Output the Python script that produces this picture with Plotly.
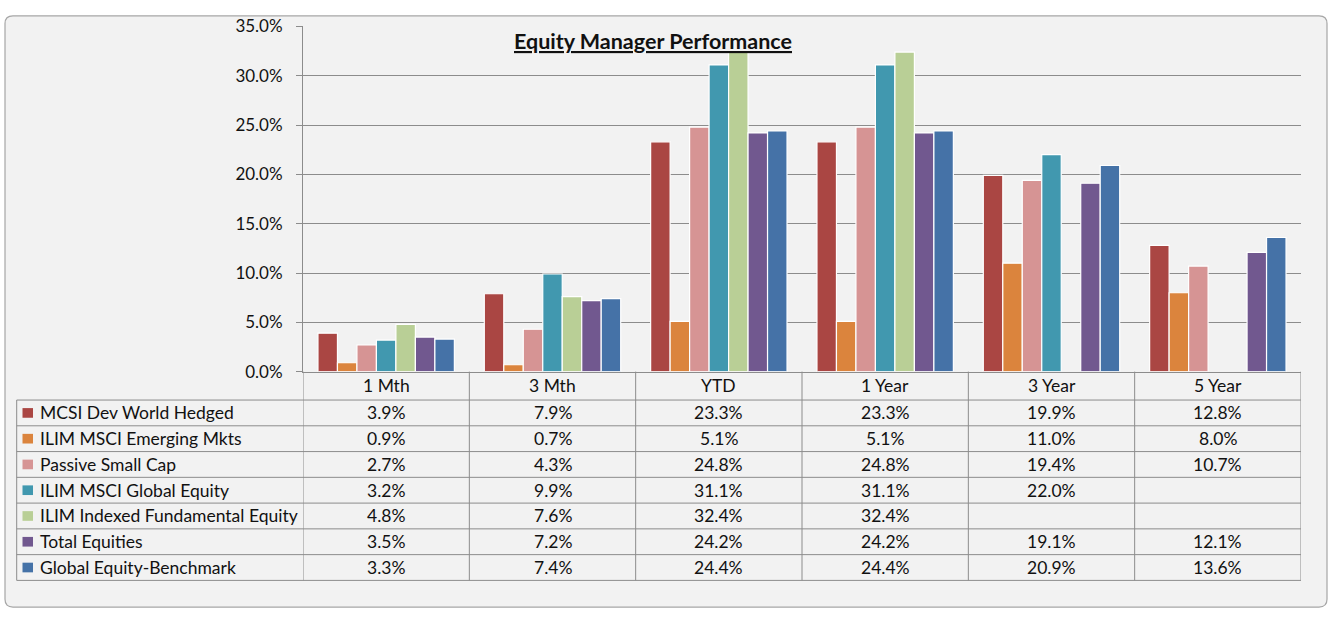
import plotly.graph_objects as go

W, H = 1330, 619

categories = ["1 Mth", "3 Mth", "YTD", "1 Year", "3 Year", "5 Year"]
series = [
    "MCSI Dev World Hedged",
    "ILIM MSCI Emerging Mkts",
    "Passive Small Cap",
    "ILIM MSCI Global Equity",
    "ILIM Indexed Fundamental Equity",
    "Total Equities",
    "Global Equity-Benchmark",
]
dev_world = [3.9, 7.9, 23.3, 23.3, 19.9, 12.8]
emerging = [0.9, 0.7, 5.1, 5.1, 11.0, 8.0]
small_cap = [2.7, 4.3, 24.8, 24.8, 19.4, 10.7]
global_eq = [3.2, 9.9, 31.1, 31.1, 22.0, None]
fundamental = [4.8, 7.6, 32.4, 32.4, None, None]
total_eq = [3.5, 7.2, 24.2, 24.2, 19.1, 12.1]
benchmark = [3.3, 7.4, 24.4, 24.4, 20.9, 13.6]
values = [dev_world, emerging, small_cap, global_eq, fundamental, total_eq, benchmark]
colors = ["#AA4643", "#DB843D", "#D69494", "#4198AF", "#B9CF96", "#71588F", "#4572A7"]

FONT = "Lato"
GRID = "#8c8c8c"
TXT = 17.5

# pixel helpers (margins are zero, so paper == pixels)
def px(x):
    return x / W

def py(y):
    return 1 - y / H

plot_l, plot_r, plot_t, plot_b = 303, 1301, 16, 373.3
row_top = 402.7
row_h = 26.67
tab_l = 16.7
tab_b = row_top + row_h * len(series)

fig = go.Figure()
for name, vals, col in zip(series, values, colors):
    fig.add_trace(go.Bar(x=categories, y=vals, name=name, marker_color=col,
                         marker_line=dict(color="white", width=1.2)))

shapes = []
annotations = []

# outer rounded frame
r = 8
x0, y0, x1, y1 = 5, 5, 1327, 617
path = (f"M {px(x0+r)},{py(y0)} L {px(x1-r)},{py(y0)} Q {px(x1)},{py(y0)} {px(x1)},{py(y0+r)} "
        f"L {px(x1)},{py(y1-r)} Q {px(x1)},{py(y1)} {px(x1-r)},{py(y1)} "
        f"L {px(x0+r)},{py(y1)} Q {px(x0)},{py(y1)} {px(x0)},{py(y1-r)} "
        f"L {px(x0)},{py(y0+r)} Q {px(x0)},{py(y0)} {px(x0+r)},{py(y0)} Z")
shapes.append(dict(type="path", path=path, xref="paper", yref="paper", layer="below",
                   fillcolor="#f2f2f2", line=dict(color="#a6a6a6", width=1.2)))

# table horizontal lines
for i in range(len(series) + 1):
    y = row_top + i * row_h
    shapes.append(dict(type="line", xref="paper", yref="paper", x0=px(tab_l), x1=px(plot_r),
                       y0=py(y), y1=py(y), line=dict(color=GRID, width=1)))
# table vertical lines
shapes.append(dict(type="line", xref="paper", yref="paper", x0=px(tab_l), x1=px(tab_l),
                   y0=py(row_top), y1=py(tab_b), line=dict(color=GRID, width=1)))
for k in range(len(categories) + 1):
    shapes.append(dict(type="line", xref="x", yref="paper", x0=k - 0.5, x1=k - 0.5,
                       y0=py(plot_b), y1=py(tab_b), line=dict(color=GRID, width=1)))

# header row
for k, c in enumerate(categories):
    annotations.append(dict(x=k, xref="x", y=py((plot_b + row_top) / 2), yref="paper",
                            yanchor="middle", text=c, showarrow=False,
                            font=dict(size=TXT, color="#111")))

# data rows
for i, (name, vals, col) in enumerate(zip(series, values, colors)):
    yc = row_top + (i + 0.5) * row_h
    shapes.append(dict(type="rect", xref="paper", yref="paper", x0=px(22.5), x1=px(33),
                       y0=py(yc - 5), y1=py(yc + 5), fillcolor=col, line=dict(width=0)))
    annotations.append(dict(x=px(37.5), xref="paper", y=py(yc), yref="paper", text=name,
                            xanchor="left", yanchor="middle", showarrow=False,
                            font=dict(size=TXT, color="#111")))
    for k, v in enumerate(vals):
        if v is None:
            continue
        annotations.append(dict(x=k, xref="x", y=py(yc), yref="paper", text=f"{v:.1f}%",
                                yanchor="middle", showarrow=False,
                                font=dict(size=TXT, color="#111")))

annotations.append(dict(x=px(653), xref="paper", y=py(31), yref="paper", yanchor="middle",
                        text="<b><u>Equity Manager Performance</u></b>", showarrow=False,
                        font=dict(size=21.5, color="#111")))

fig.update_layout(
    width=W, height=H,
    margin=dict(l=0, r=0, t=0, b=0),
    paper_bgcolor="white",
    plot_bgcolor="#ededed",
    font=dict(family=FONT, color="#111"),
    barmode="group", bargap=0.18, bargroupgap=0,
    showlegend=False,
    shapes=shapes,
    annotations=annotations,
    xaxis=dict(domain=[px(plot_l), px(plot_r)], showticklabels=False, ticks="",
               showline=True, linecolor=GRID, linewidth=1, mirror=False, showgrid=False,
               range=[-0.5, 5.5]),
    yaxis=dict(domain=[py(plot_b), py(plot_t)], range=[0, 35], dtick=5, tickformat=".1f",
               ticksuffix="%", ticks="outside", ticklen=6, tickcolor=GRID,
               showline=True, linecolor=GRID, linewidth=1, gridcolor=GRID, gridwidth=1,
               zeroline=False, tickfont=dict(size=17, color="#111"), ticklabelstandoff=10),
)

fig.write_html("out.html", config={"displayModeBar": False},
               post_script="document.body.style.margin='0';document.body.style.overflow='hidden';")
